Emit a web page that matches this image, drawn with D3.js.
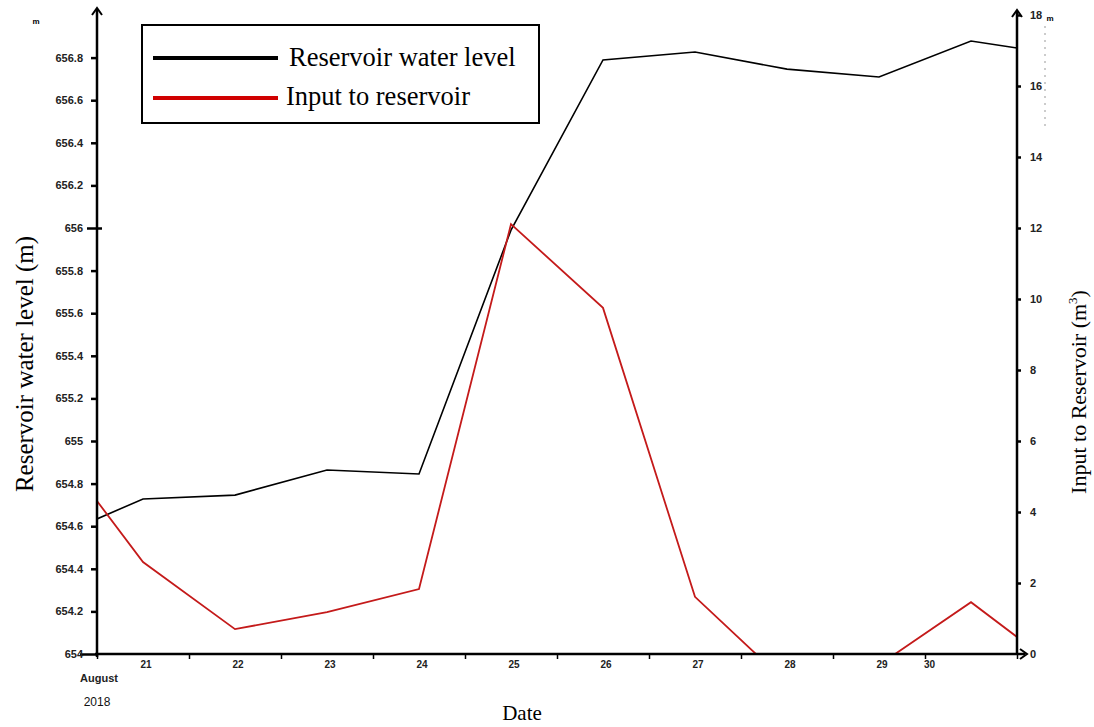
<!DOCTYPE html>
<html>
<head>
<meta charset="utf-8">
<script src="https://cdn.jsdelivr.net/npm/d3@7"></script>
<style>
  body { margin: 0; background: #fff; }
  .tick text { font-family: "Liberation Sans", Arial, sans-serif; font-weight: bold; fill: #222; }
  .serif { font-family: "Liberation Serif", "Times New Roman", serif; }
</style>
</head>
<body>
<svg id="chart" width="1094" height="727"></svg>
<script>
// values (first/last are where the lines meet the frame)
const days = [20.5, 21, 22, 23, 24, 25, 26, 27, 28, 29, 30, 30.5];
const level = [654.634, 654.728, 654.746, 654.864, 654.845, 655.99, 656.789, 656.826, 656.746, 656.709, 656.878, 656.845];
const input = [4.31, 2.59, 0.70, 1.18, 1.83, 12.11, 9.75, 1.61, -0.82, -0.31, 1.46, 0.48];
const dayLabels = ["21", "22", "23", "24", "25", "26", "27", "28", "29"];
const levelTicks = [654, 654.2, 654.4, 654.6, 654.8, 655, 655.2, 655.4, 655.6, 655.8, 656, 656.2, 656.4, 656.6, 656.8];
const inputTicks = [0, 2, 4, 6, 8, 10, 12, 14, 16, 18];

var svg = d3.select("#chart");
var left = 97, right = 1017, bottom = 654;

var x = d3.scaleLinear().domain([20.5, 30.5]).range([left, right]);
var yL = d3.scaleLinear().domain([654, 656]).range([bottom, 228]);
var yR = d3.scaleLinear().domain([0, 12]).range([bottom, 228]);

svg.append("defs").append("clipPath").attr("id", "plot")
  .append("rect").attr("x", left).attr("y", 0).attr("width", right - left).attr("height", bottom);

// lines
var lineL = d3.line().x((d, i) => x(days[i])).y(d => yL(d));
var lineR = d3.line().x((d, i) => x(days[i])).y(d => yR(d));
svg.append("path").datum(level).attr("clip-path", "url(#plot)")
  .attr("fill", "none").attr("stroke", "#000").attr("stroke-width", 1.6).attr("d", lineL);
svg.append("path").datum(input).attr("clip-path", "url(#plot)")
  .attr("fill", "none").attr("stroke", "#c41a1a").attr("stroke-width", 1.8).attr("d", lineR);

// left axis
var gL = svg.append("g").attr("transform", "translate(" + left + ",0)")
  .call(d3.axisLeft(yL).tickValues(levelTicks).tickSize(6).tickPadding(8)
    .tickFormat(d => d3.format(".1f")(d).replace(/\.0$/, "")));
gL.select(".domain").remove();
gL.selectAll(".tick line").attr("stroke", "#000").attr("stroke-width", 2.5);
gL.selectAll(".tick text").style("font-size", "11px");
gL.selectAll(".tick").filter(d => d === 654).select("line").attr("x2", -17);
gL.selectAll(".tick").filter(d => d === 656).select("line").attr("x1", 5).attr("x2", -10);
svg.append("line").attr("x1", left).attr("x2", left).attr("y1", bottom + 3).attr("y2", 9)
  .attr("stroke", "#000").attr("stroke-width", 2.5);
svg.append("path").attr("d", "M" + (left - 5) + ",15 L" + left + ",8 L" + (left + 5) + ",15")
  .attr("fill", "none").attr("stroke", "#000").attr("stroke-width", 2);
svg.append("text").attr("x", 36).attr("y", 24).attr("text-anchor", "middle")
  .style("font", "bold 8px 'Liberation Sans', Arial").text("m");

// right axis
var gR = svg.append("g").attr("transform", "translate(" + right + ",0)")
  .call(d3.axisRight(yR).tickValues(inputTicks).tickSize(4).tickPadding(9));
gR.select(".domain").remove();
gR.selectAll(".tick line").attr("stroke", "#000").attr("stroke-width", 2.5);
gR.selectAll(".tick text").style("font-size", "11px");
gR.selectAll(".tick").filter(d => d === 0).select("line").remove();
gR.selectAll(".tick").filter(d => d === 0).select("text").attr("x", 13);
svg.append("line").attr("x1", right).attr("x2", right).attr("y1", bottom).attr("y2", 11)
  .attr("stroke", "#000").attr("stroke-width", 2.5);
svg.append("path").attr("d", "M" + (right - 5) + ",17 L" + right + ",10 L" + (right + 5) + ",17")
  .attr("fill", "none").attr("stroke", "#000").attr("stroke-width", 2);
svg.append("text").attr("x", 1050).attr("y", 21).attr("text-anchor", "middle")
  .style("font", "bold 8px 'Liberation Sans', Arial").text("m");
svg.append("line").attr("x1", 1045).attr("x2", 1045).attr("y1", 26).attr("y2", 130)
  .attr("stroke", "#999").attr("stroke-width", 1).attr("stroke-dasharray", "2,5");

// x axis
var gX = svg.append("g").attr("transform", "translate(0," + bottom + ")")
  .call(d3.axisBottom(x).tickValues(d3.range(20.5, 30.6, 1)).tickSize(5).tickFormat(""));
gX.select(".domain").remove();
gX.selectAll(".tick line").attr("stroke", "#000").attr("stroke-width", 1.5);
svg.append("line").attr("x1", left - 2).attr("x2", right + 8).attr("y1", bottom).attr("y2", bottom)
  .attr("stroke", "#000").attr("stroke-width", 2.5);
svg.append("path").attr("d", "M" + (right + 3) + "," + (bottom - 5) + " L" + (right + 10) + "," + bottom + " L" + (right + 3) + "," + (bottom + 5))
  .attr("fill", "none").attr("stroke", "#000").attr("stroke-width", 2);

svg.append("g").selectAll("text").data(dayLabels).enter().append("text")
  .attr("x", d => x(+d) + 3).attr("y", 668).attr("text-anchor", "middle")
  .style("font", "bold 10px 'Liberation Sans', Arial").style("fill", "#222").text(d => d);
svg.append("text").attr("x", x(29.55)).attr("y", 668).attr("text-anchor", "middle")
  .style("font", "bold 10px 'Liberation Sans', Arial").style("fill", "#222").text("30");
svg.append("text").attr("x", 99).attr("y", 682).attr("text-anchor", "middle")
  .style("font", "bold 11px 'Liberation Sans', Arial").style("fill", "#222").text("August");
svg.append("text").attr("x", 97).attr("y", 706).attr("text-anchor", "middle")
  .style("font", "12px 'Liberation Sans', Arial").style("fill", "#111").text("2018");

// axis titles
svg.append("text").attr("class", "serif").attr("x", 522).attr("y", 720).attr("text-anchor", "middle")
  .style("font-size", "21px").text("Date");
svg.append("text").attr("class", "serif").attr("transform", "translate(33,364) rotate(-90)")
  .attr("text-anchor", "middle").style("font-size", "25px").text("Reservoir water level (m)");
var tR = svg.append("text").attr("class", "serif").attr("transform", "translate(1086,392) rotate(-90)")
  .attr("text-anchor", "middle").style("font-size", "22px");
tR.append("tspan").text("Input to Reservoir (m");
tR.append("tspan").attr("dy", -9).style("font-size", "13px").text("3");
tR.append("tspan").attr("dy", 9).text(")");

// legend
var lg = svg.append("g");
lg.append("rect").attr("x", 142).attr("y", 25).attr("width", 397).attr("height", 98)
  .attr("fill", "#fff").attr("stroke", "#000").attr("stroke-width", 2);
lg.append("line").attr("x1", 153).attr("x2", 278).attr("y1", 58).attr("y2", 58)
  .attr("stroke", "#000").attr("stroke-width", 4);
lg.append("line").attr("x1", 153).attr("x2", 278).attr("y1", 98).attr("y2", 98)
  .attr("stroke", "#d00000").attr("stroke-width", 4);
lg.append("text").attr("class", "serif").attr("x", 289).attr("y", 66)
  .style("font-size", "26.5px").text("Reservoir water level");
lg.append("text").attr("class", "serif").attr("x", 286).attr("y", 105)
  .style("font-size", "26.5px").text("Input to reservoir");
</script>
</body>
</html>
